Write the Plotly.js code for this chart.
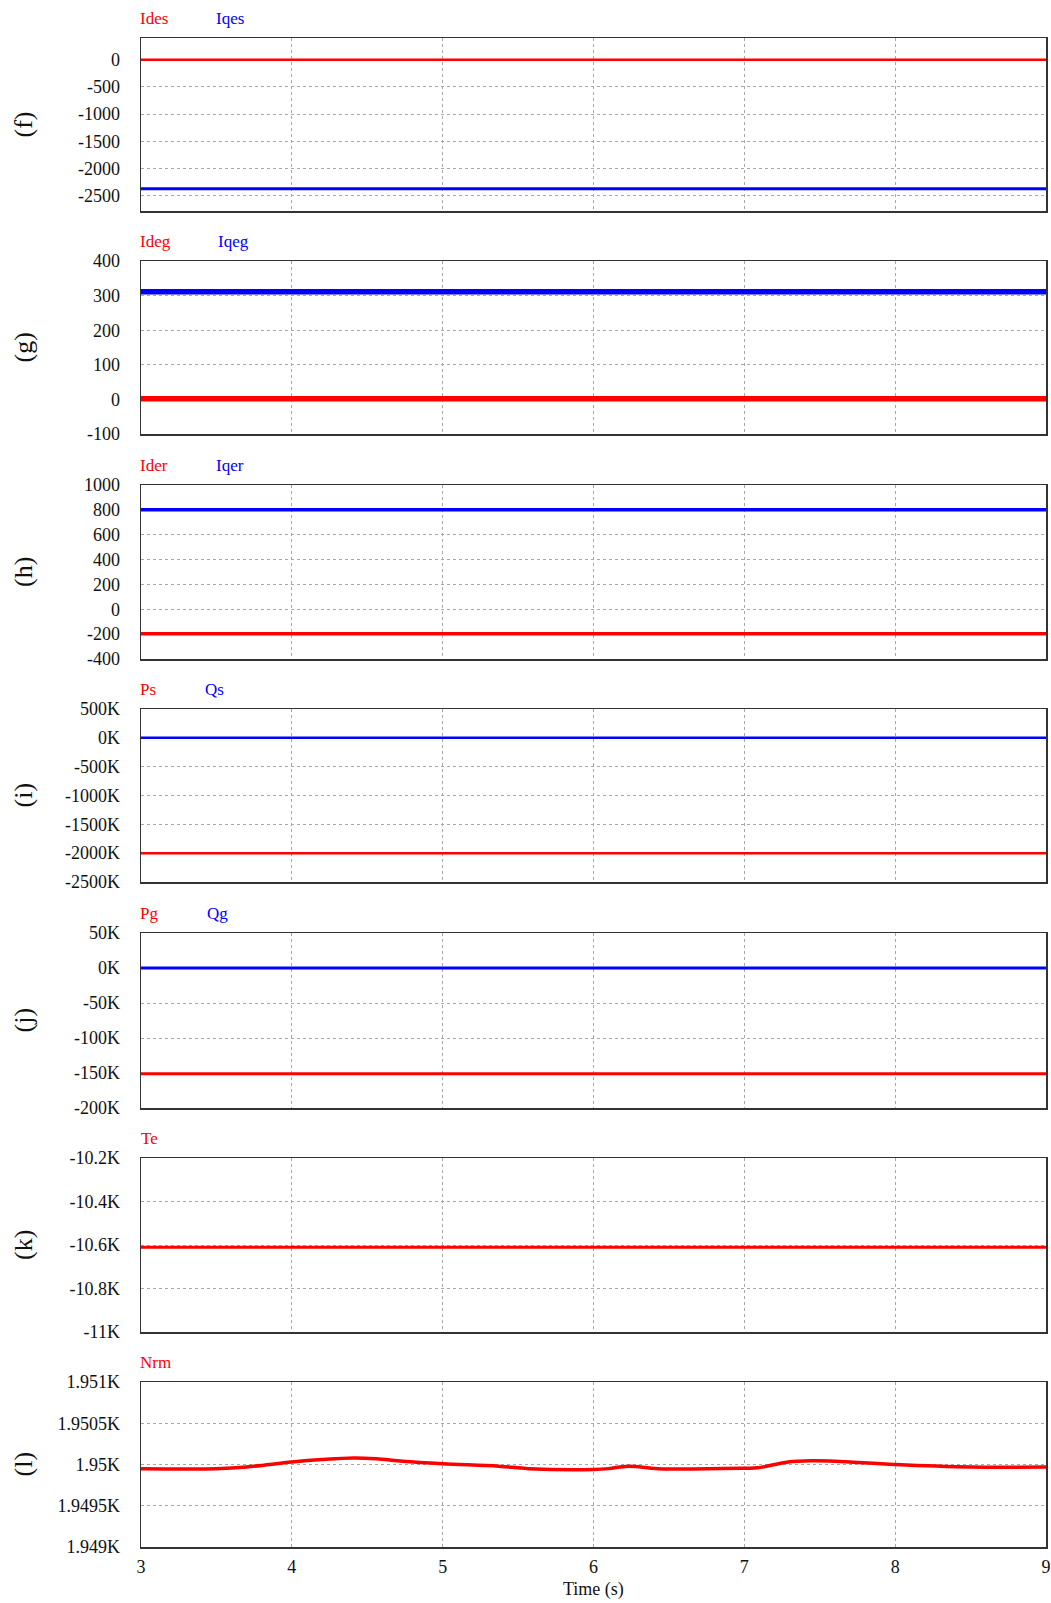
<!DOCTYPE html>
<html>
<head>
<meta charset="utf-8">
<script src="https://cdn.plot.ly/plotly-3.0.1.min.js"></script>
<style>html,body{margin:0;padding:0;background:#fff;}#chart{width:1051px;height:1603px;}</style>
</head>
<body>
<div id="chart"></div>
<script>
// ---------------- DATA ----------------
const tSpan = [3, 9];

// (f) stator dq currents
const Ides = [0, 0];
const Iqes = [-2370, -2370];
// (g) grid-side dq currents
const Ideg = [2, 2];
const Iqeg = [311, 311];
// (h) rotor dq currents
const Ider = [-197, -197];
const Iqer = [800, 800];
// (i) stator powers
const Ps = [-2000000, -2000000];
const Qs = [0, 0];
// (j) grid-side powers
const Pg = [-151000, -151000];
const Qg = [0, 0];
// (k) electromagnetic torque
const Te = [-10610, -10610];
// (l) rotor speed
const tNrm = [3, 3.5, 3.7, 4, 4.2, 4.41, 4.56, 4.735, 5, 5.37, 5.57, 6, 6.1, 6.23, 6.43, 7, 7.09, 7.29, 7.45, 7.6, 8, 8.5, 9];
const Nrm  = [1949.95, 1949.95, 1949.97, 1950.03, 1950.06, 1950.08, 1950.07, 1950.04, 1950.01, 1949.98, 1949.95, 1949.94, 1949.95, 1949.98, 1949.95, 1949.955, 1949.96, 1950.03, 1950.045, 1950.04, 1950.0, 1949.97, 1949.97];

// tick values / labels
const xTicks = [3, 4, 5, 6, 7, 8, 9];
const xTickText = ['3', '4', '5', '6', '7', '8', '9'];
const fTicks = [0, -500, -1000, -1500, -2000, -2500];
const fTickText = ['0', '-500', '-1000', '-1500', '-2000', '-2500'];
const gTicks = [400, 300, 200, 100, 0, -100];
const gTickText = ['400', '300', '200', '100', '0', '-100'];
const hTicks = [1000, 800, 600, 400, 200, 0, -200, -400];
const hTickText = ['1000', '800', '600', '400', '200', '0', '-200', '-400'];
const iTicks = [500000, 0, -500000, -1000000, -1500000, -2000000, -2500000];
const iTickText = ['500K', '0K', '-500K', '-1000K', '-1500K', '-2000K', '-2500K'];
const jTicks = [50000, 0, -50000, -100000, -150000, -200000];
const jTickText = ['50K', '0K', '-50K', '-100K', '-150K', '-200K'];
const kTicks = [-10200, -10400, -10600, -10800, -11000];
const kTickText = ['-10.2K', '-10.4K', '-10.6K', '-10.8K', '-11K'];
const lTicks = [1951, 1950.5, 1950, 1949.5, 1949];
const lTickText = ['1.951K', '1.9505K', '1.95K', '1.9495K', '1.949K'];

const panelLabels = ['(f)', '(g)', '(h)', '(i)', '(j)', '(k)', '(l)'];

// ---------------- LAYOUT CONFIG ----------------
const W = 1051, H = 1603;
const plotLeft = 141, plotRight = 1046;
const RED = '#ff0000', BLUE = '#0000ff';
const FONT = 'Liberation Serif, Times New Roman, serif';

const panels = [
  {top: 38,   bot: 211,  range: [-2780, 400],       tv: fTicks, tt: fTickText,
   series: [{x: tSpan, y: Ides, c: RED, w: 2.5, n: 'Ides'}, {x: tSpan, y: Iqes, c: BLUE, w: 3, n: 'Iqes'}],
   labels: [{t: 'Ides', x: 138, c: RED}, {t: 'Iqes', x: 214, c: BLUE}]},
  {top: 261,  bot: 434,  range: [-100, 400],        tv: gTicks, tt: gTickText,
   series: [{x: tSpan, y: Ideg, c: RED, w: 5.5, n: 'Ideg'}, {x: tSpan, y: Iqeg, c: BLUE, w: 5.5, n: 'Iqeg'}],
   labels: [{t: 'Ideg', x: 138, c: RED}, {t: 'Iqeg', x: 216, c: BLUE}]},
  {top: 485,  bot: 659,  range: [-400, 1000],       tv: hTicks, tt: hTickText,
   series: [{x: tSpan, y: Ider, c: RED, w: 3.5, n: 'Ider'}, {x: tSpan, y: Iqer, c: BLUE, w: 3.5, n: 'Iqer'}],
   labels: [{t: 'Ider', x: 138, c: RED}, {t: 'Iqer', x: 214, c: BLUE}]},
  {top: 709,  bot: 882,  range: [-2500000, 500000], tv: iTicks, tt: iTickText,
   series: [{x: tSpan, y: Ps, c: RED, w: 2.5, n: 'Ps'}, {x: tSpan, y: Qs, c: BLUE, w: 2.5, n: 'Qs'}],
   labels: [{t: 'Ps', x: 138, c: RED}, {t: 'Qs', x: 203, c: BLUE}]},
  {top: 933,  bot: 1108, range: [-200000, 50000],   tv: jTicks, tt: jTickText,
   series: [{x: tSpan, y: Pg, c: RED, w: 3, n: 'Pg'}, {x: tSpan, y: Qg, c: BLUE, w: 3, n: 'Qg'}],
   labels: [{t: 'Pg', x: 138, c: RED}, {t: 'Qg', x: 205, c: BLUE}]},
  {top: 1158, bot: 1332, range: [-11000, -10200],   tv: kTicks, tt: kTickText,
   series: [{x: tSpan, y: Te, c: RED, w: 3, n: 'Te'}],
   labels: [{t: 'Te', x: 139, c: RED}]},
  {top: 1382, bot: 1547, range: [1949, 1951],       tv: lTicks, tt: lTickText,
   series: [{x: tNrm, y: Nrm, c: RED, w: 3.5, n: 'Nrm', spline: true}],
   labels: [{t: 'Nrm', x: 138, c: RED}]}
];

const data = [];
const layout = {
  width: W, height: H,
  margin: {l: 0, r: 0, t: 0, b: 0},
  paper_bgcolor: '#ffffff', plot_bgcolor: '#ffffff',
  showlegend: false,
  font: {family: FONT, size: 18, color: '#111111'},
  annotations: []
};

panels.forEach((p, i) => {
  const k = i === 0 ? '' : String(i + 1);
  const xa = 'xaxis' + k, ya = 'yaxis' + k;
  const last = i === panels.length - 1;
  layout[xa] = {
    domain: [plotLeft / W, plotRight / W],
    anchor: 'y' + k,
    range: [3, 9], fixedrange: true,
    tickmode: 'array', tickvals: xTicks, ticktext: xTickText,
    showticklabels: last, ticks: '', ticklabelstandoff: 3,
    tickfont: {family: FONT, size: 18, color: '#111111'},
    showgrid: true, gridcolor: '#a8a8a8', gridwidth: 1, griddash: '3px,3px',
    zeroline: false,
    showline: true, mirror: true, linecolor: '#333333', linewidth: 1.5
  };
  layout[ya] = {
    domain: [1 - p.bot / H, 1 - p.top / H],
    anchor: 'x' + k,
    range: p.range, fixedrange: true,
    tickmode: 'array', tickvals: p.tv, ticktext: p.tt,
    ticks: '', ticklabelstandoff: 16,
    tickfont: {family: FONT, size: 18, color: '#111111'},
    showgrid: true, gridcolor: '#a8a8a8', gridwidth: 1, griddash: '3px,3px',
    zeroline: false,
    showline: true, mirror: true, linecolor: '#333333', linewidth: 1.5
  };
  p.series.forEach(s => {
    data.push({
      type: 'scatter', mode: 'lines', name: s.n,
      x: s.x, y: s.y, xaxis: 'x' + k, yaxis: 'y' + k,
      line: {color: s.c, width: s.w, shape: s.spline ? 'spline' : 'linear'},
      hoverinfo: 'skip'
    });
  });
  p.labels.forEach(l => {
    layout.annotations.push({
      xref: 'paper', yref: 'paper',
      x: l.x / W, y: 1 - (p.top - 20) / H,
      xanchor: 'left', yanchor: 'middle',
      text: l.t, showarrow: false,
      font: {family: FONT, size: 17, color: l.c}
    });
  });
  layout.annotations.push({
    xref: 'paper', yref: 'paper',
    x: 23 / W, y: 1 - ((p.top + p.bot) / 2) / H,
    xanchor: 'center', yanchor: 'middle',
    text: panelLabels[i], textangle: -90, showarrow: false,
    font: {family: FONT, size: 26, color: '#111111'}
  });
});

layout.annotations.push({
  xref: 'paper', yref: 'paper',
  x: ((plotLeft + plotRight) / 2) / W, y: 1 - 1589 / H,
  xanchor: 'center', yanchor: 'middle',
  text: 'Time (s)', showarrow: false,
  font: {family: FONT, size: 18, color: '#111111'}
});

Plotly.newPlot('chart', data, layout, {staticPlot: true, displayModeBar: false});
</script>
</body>
</html>
